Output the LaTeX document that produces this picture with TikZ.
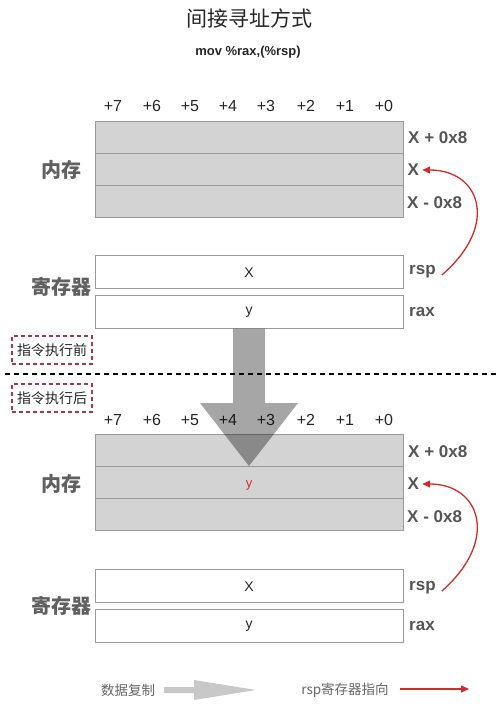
\documentclass[tikz,border=0pt]{standalone}
\usepackage{fontspec}
\setmainfont{Liberation Sans}
\newfontfamily\cjk{Noto Sans CJK SC}
\usetikzlibrary{arrows.meta}
\definecolor{memfill}{HTML}{D3D3D3}
\definecolor{boxline}{HTML}{9A9A9A}
\definecolor{lbl}{HTML}{555555}
\definecolor{cjkgray}{HTML}{606060}
\definecolor{redarrow}{HTML}{D42A2A}
\definecolor{dashred}{HTML}{B83050}
\definecolor{legendgray}{HTML}{C8C8C8}
\tikzset{
  memrow/.style={draw=boxline, line width=0.8pt, fill=memfill, minimum width=308pt, minimum height=32pt, inner sep=0pt, font=\fontsize{13}{13}\selectfont},
  regbox/.style={draw=boxline, line width=0.8pt, fill=white, minimum width=308pt, minimum height=33pt, inner sep=0pt, font=\fontsize{14}{14}\selectfont, text=black!85},
  regtxt/.style={font=\fontsize{14}{14}\selectfont, text=black!85, inner sep=0pt},
  collbl/.style={font=\fontsize{16}{16}\selectfont, text=black!85, inner sep=0pt},
  rowlbl/.style={font=\fontsize{17}{17}\selectfont\bfseries, text=lbl, anchor=west, inner sep=0pt},
  sidelbl/.style={font=\cjk\fontsize{20}{20}\selectfont\bfseries, text=cjkgray, inner sep=0pt},
  phase/.style={draw=dashred, line width=1.6pt, dash pattern=on 4pt off 3pt, minimum width=80pt, minimum height=28pt, inner sep=0pt, font=\cjk\fontsize{14}{14}\selectfont, text=black!85},
  ptr/.style={draw=redarrow, line width=1.3pt, -{Triangle[length=8pt,width=7pt]}},
  legtxt/.style={font=\cjk\fontsize{13.5}{13.5}\selectfont, text=black!60, inner sep=0pt}
}
\begin{document}
\begin{tikzpicture}[x=1pt,y=-1pt]
\useasboundingbox (0,0) rectangle (499,706);
% title
\node[font=\cjk\fontsize{21}{21}\selectfont, text=black!85] (title) at (249,18) {间接寻址方式};
\node[font=\fontsize{13}{13}\selectfont\bfseries, text=black!85] (instr) at (248,52) {mov \%rax,(\%rsp)};

% ---------- before ----------
\foreach \lab/\xx in {+7/113,+6/152,+5/190,+4/228,+3/266,+2/306,+1/345,+0/384}
  \node[collbl] at (\xx,106) {\lab};
\node[memrow] (am1) at (249,137) {};
\node[memrow] (am2) at (249,169) {};
\node[memrow] (am3) at (249,201) {};
\node[rowlbl] (al1) at (408,138) {X + 0x8};
\node[rowlbl] (al2) at (407.5,170) {X};
\node[rowlbl] (al3) at (407,203) {X - 0x8};
\node[sidelbl] (amem) at (61,170) {内存};

\node[regbox] (arsp) at (249,271.5) {};
\node[regbox] (arax) at (249,312) {};
\node[regtxt] (arspv) at (249,272.5) {X};
\node[regtxt] (araxv) at (249,312.5) {y};
\node[rowlbl] (arspl) at (409,272) {rsp};
\node[rowlbl] (araxl) at (409,312) {rax};
\node[sidelbl] (areg) at (61,287) {寄存器};

\coordinate (as) at ([xshift=6pt,yshift=-3pt]arspl.east);
\coordinate (ae) at ([xshift=3pt]al2.east);
\draw[ptr] (as) .. controls (500,225) and (480,170) .. (ae);
\node[phase] (before) at (52,350) {指令执行前};

% separator
\coordinate (sepL) at (5,374);
\coordinate (sepR) at (496,374);
\draw[black, line width=1.8pt, dash pattern=on 5pt off 4pt] (sepL) -- (sepR);

\node[phase] (after) at (52,398) {指令执行后};

% ---------- after ----------
\foreach \lab/\xx in {+7/113,+6/152,+5/190,+4/228,+3/266,+2/306,+1/345,+0/384}
  \node[collbl] at (\xx,420) {\lab};
\node[memrow] (bm1) at (249,450) {};
\node[memrow] (bm2) at (249,482) {};
\node[memrow] (bm3) at (249,514) {};
\node[text=redarrow, font=\fontsize{13}{13}\selectfont] (by) at (249,485) {y};
\node[rowlbl] (bl1) at (408,452) {X + 0x8};
\node[rowlbl] (bl2) at (407.5,484) {X};
\node[rowlbl] (bl3) at (407,517) {X - 0x8};
\node[sidelbl] (bmem) at (61,484) {内存};

\node[regbox] (brsp) at (249,585.5) {};
\node[regbox] (brax) at (249,625.5) {};
\node[regtxt] (brspv) at (249,586.5) {X};
\node[regtxt] (braxv) at (249,626.5) {y};
\node[rowlbl] (brspl) at (409,588) {rsp};
\node[rowlbl] (braxl) at (409,626) {rax};
\node[sidelbl] (breg) at (61,606) {寄存器};

\coordinate (bs) at ([xshift=6pt,yshift=-3pt]brspl.east);
\coordinate (be) at ([xshift=3pt]bl2.east);
\draw[ptr] (bs) .. controls (500,540) and (480,484) .. (be);

% big copy arrow
\fill[black, opacity=0.35] (233,328.5) -- (265,328.5) -- (265,403) -- (298,403) -- (249,466) -- (200,403) -- (233,403) -- cycle;

% legend
\node[legtxt] (leg1) at (128,690) {数据复制};
\fill[legendgray] (164,687) -- (194,687) -- (194,680) -- (256,690) -- (194,700) -- (194,693) -- (164,693) -- cycle;
\node[legtxt] (leg2) at (345,690) {rsp寄存器指向};
\coordinate (lr1) at (400,689);
\coordinate (lr2) at (469,689);
\draw[ptr] (lr1) -- (lr2);
\end{tikzpicture}
\end{document}
